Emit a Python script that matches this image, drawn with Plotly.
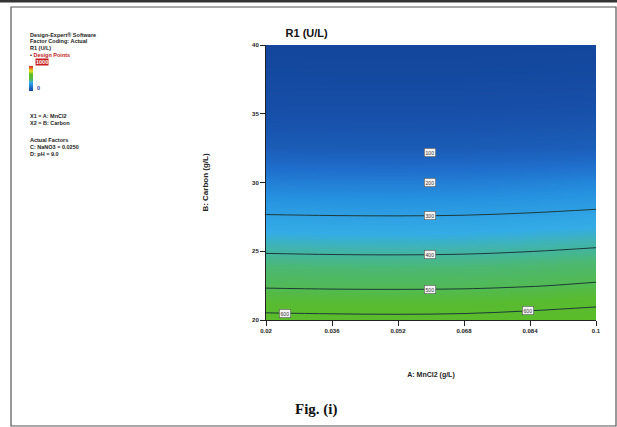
import numpy as np
import plotly.graph_objects as go

# ---------------- data ----------------
mncl2 = [0.02, 0.036, 0.052, 0.068, 0.084, 0.1]          # A: MnCl2 (g/L)
carbon = [20, 22.5, 25, 27.5, 30, 32.5, 35, 37.5, 40]     # B: Carbon (g/L)
r1 = [                                                     # R1 (U/L), rows = carbon
    [629, 625, 623, 626, 638, 655],
    [490, 486, 485, 487, 496, 510],
    [394, 391, 390, 392, 399, 409],
    [307, 304, 303, 305, 312, 322],
    [204, 201, 200, 202, 210, 222],
    [88, 86, 85, 86, 91, 98],
    [41, 40, 40, 41, 43, 46],
    [16, 15, 15, 15, 17, 19],
    [0, 0, 0, 0, 1, 2],
]
line_levels = [300, 400, 500, 600]
label_levels = [100, 200, 300, 400, 500]
label_a = 0.0598
edge_label_level = 600
edge_label_a = [0.0245, 0.0835]
x_ticks = [0.02, 0.036, 0.052, 0.068, 0.084, 0.1]
x_tick_text = ["0.02", "0.036", "0.052", "0.068", "0.084", "0.1"]
y_ticks = [20, 25, 30, 35, 40]
z_min, z_max = 0, 1000

# ---------------- geometry helpers (pixels -> paper) ----------------
W, H = 617, 427
L, R, T, B = 266, 596, 45, 320
def px(x):
    return (x - L) / (R - L)
def py(y):
    return (B - y) / (B - T)

cscale = [
    [0.0, "#13469c"], [0.05, "#1852ac"], [0.155, "#1f6ecb"], [0.25, "#2692e0"],
    [0.345, "#34ace6"], [0.38, "#3fb3b5"], [0.44, "#4cb870"], [0.56, "#58bb30"],
    [0.66, "#5cbc28"], [0.8, "#e8e020"], [1.0, "#e02020"],
]

fig = go.Figure()
fig.add_trace(go.Heatmap(
    x=mncl2, y=carbon, z=r1, zsmooth="best", colorscale=cscale,
    zmin=z_min, zmax=z_max, hoverinfo="skip",
    colorbar=dict(x=px(29), xanchor="left", y=py(66), yanchor="top", ypad=0, xpad=0,
                  len=25, lenmode="pixels", thickness=4, thicknessmode="pixels",
                  showticklabels=False, outlinewidth=0, ticks=""),
))
fig.add_trace(go.Contour(
    x=mncl2, y=carbon, z=r1, showscale=False, hoverinfo="skip",
    contours=dict(coloring="none", start=min(line_levels), end=max(line_levels),
                  size=line_levels[1] - line_levels[0]),
    line=dict(color="#1c3a3a", width=1),
))

# contour value labels, located from the data grid
Z = np.array(r1, dtype=float)
def b_at(level, a):
    col = np.array([np.interp(a, mncl2, row) for row in Z])
    return float(np.interp(level, col[::-1], np.array(carbon)[::-1]))

label_pos = [(label_a, lv) for lv in label_levels] + [(a, edge_label_level) for a in edge_label_a]
annotations = []
for a, lv in label_pos:
    annotations.append(dict(
        x=a, y=b_at(lv, a), xref="x", yref="y", text=str(lv), showarrow=False,
        font=dict(family="Arial", size=5, color="#333"),
        bgcolor="#f4f4f4", bordercolor="#555", borderwidth=0.6, borderpad=1,
    ))

# left-hand information panel
panel = [
    (35, "Design-Expert® Software", "#222"),
    (41, "Factor Coding: Actual", "#222"),
    (48, "R1 (U/L)", "#222"),
    (116, "X1 = A: MnCl2", "#222"),
    (123, "X2 = B: Carbon", "#222"),
    (140, "Actual Factors", "#222"),
    (147, "C: NaNO3 = 0.0250", "#222"),
    (154, "D: pH = 9.0", "#222"),
]
for y, t, c in panel:
    annotations.append(dict(x=px(28), y=py(y), xref="paper", yref="paper", text="<b>" + t + "</b>",
                            showarrow=False, xanchor="left", yanchor="middle",
                            font=dict(family="Arial", size=5.5, color=c)))
annotations.append(dict(x=px(28), y=py(55), xref="paper", yref="paper",
                        text="<b>•</b> <b><span style='color:#c02020'>Design Points</span></b>",
                        showarrow=False, xanchor="left", yanchor="middle",
                        font=dict(family="Arial", size=5.5, color="#222")))
annotations.append(dict(x=px(35), y=py(62), xref="paper", yref="paper", text="<b>" + str(z_max) + "</b>",
                        showarrow=False, xanchor="left", yanchor="middle", bgcolor="#c82020",
                        font=dict(family="Arial", size=5.5, color="#fff"), borderpad=0))
annotations.append(dict(x=px(35), y=py(88), xref="paper", yref="paper", text="<b>" + str(z_min) + "</b>",
                        showarrow=False, xanchor="left", yanchor="middle",
                        font=dict(family="Arial", size=5.5, color="#1a3aa0")))
annotations.append(dict(x=px(316), y=py(410), xref="paper", yref="paper", text="<b>Fig. (i)</b>",
                        showarrow=False, xanchor="center", yanchor="middle",
                        font=dict(family="Liberation Serif", size=15, color="#111")))

shapes = [
    dict(type="rect", xref="paper", yref="paper", x0=px(11), x1=px(616), y0=py(7), y1=py(426),
         line=dict(color="#555", width=1.2)),
    dict(type="line", xref="paper", yref="paper", x0=px(0), x1=px(617), y0=py(1), y1=py(1),
         line=dict(color="#333", width=3)),
]

fig.update_layout(
    width=W, height=H, margin=dict(l=L, r=W - R, t=T, b=H - B),
    paper_bgcolor="#ffffff", plot_bgcolor="#ffffff",
    title=dict(text="<b>R1 (U/L)</b>", x=px(430), xanchor="center", y=1 - 33 / H, yanchor="middle",
               font=dict(family="Arial", size=11, color="#111")),
    xaxis=dict(range=[0.02, 0.1], tickvals=x_ticks, ticktext=["<b>" + t + "</b>" for t in x_tick_text],
               ticks="outside", ticklen=5, tickcolor="#222", showgrid=False, zeroline=False,
               showline=True, linecolor="#222", linewidth=1,
               tickfont=dict(family="Arial", size=6, color="#222"),
               title=dict(text="<b>A: MnCl2 (g/L)</b>", standoff=38,
                          font=dict(family="Arial", size=7, color="#222"))),
    yaxis=dict(range=[20, 40], tickvals=y_ticks, ticktext=["<b>%d</b>" % v for v in y_ticks],
               ticks="outside", ticklen=5, tickcolor="#222", showgrid=False, zeroline=False,
               showline=True, linecolor="#222", linewidth=1,
               tickfont=dict(family="Arial", size=6, color="#222"),
               title=dict(text="<b>B: Carbon (g/L)</b>", standoff=42,
                          font=dict(family="Arial", size=8, color="#222"))),
    annotations=annotations, shapes=shapes, showlegend=False,
)
fig.write_html("out.html")
